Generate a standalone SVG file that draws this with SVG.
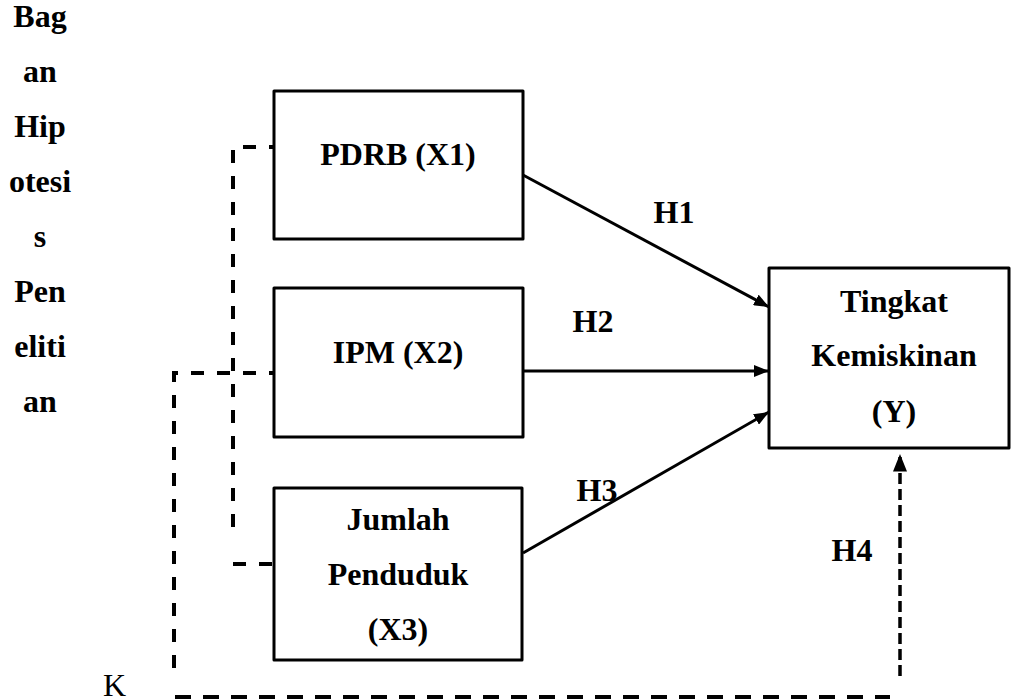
<svg xmlns="http://www.w3.org/2000/svg" width="1011" height="699" viewBox="0 0 1011 699">
<style>
.box{fill:#fff;stroke:#000;stroke-width:3;stroke-linejoin:round}
text{font-family:'Liberation Serif','DejaVu Serif',serif;font-size:32px;fill:#000}
.t{font-weight:bold;text-anchor:middle}
.arr{stroke:#000;stroke-width:3;fill:none}
.dash{stroke:#000;stroke-width:4;fill:none;stroke-dasharray:13 13}
</style>
<defs>
<marker id="ah" viewBox="0 0 10 8" markerWidth="5" markerHeight="4" refX="10" refY="4" orient="auto">
<path d="M0,0 L10,4 L0,8 Z" fill="#000"/>
</marker>
</defs>
<rect width="1011" height="699" fill="#fff"/>
<g id="title">
<text class="t" x="40" y="27">Bag</text>
<text class="t" x="40" y="82">an</text>
<text class="t" x="40" y="137">Hip</text>
<text class="t" x="40" y="192">otesi</text>
<text class="t" x="40" y="247">s</text>
<text class="t" x="40" y="302">Pen</text>
<text class="t" x="40" y="357">eliti</text>
<text class="t" x="40" y="412">an</text>
<text x="103" y="696">K</text>
</g>
<g id="connectors">
<path class="dash" d="M233,527 L233,147 L274,147"/>
<path class="dash" d="M233,564 L274,564"/>
<path class="dash" d="M174,668 L174,373 L274,373"/>
<path class="dash" d="M175,697 L890,697" style="stroke-dasharray:16 12"/>
<line class="arr" x1="523" y1="175" x2="769" y2="307" marker-end="url(#ah)"/>
<line class="arr" x1="523" y1="371" x2="769" y2="371" marker-end="url(#ah)"/>
<line class="arr" x1="523" y1="553" x2="769" y2="412" marker-end="url(#ah)"/>
<line class="arr" x1="900" y1="676" x2="900" y2="454" style="stroke-width:3.5;stroke-dasharray:11 5" marker-end="url(#ah)"/>
<text class="t" x="674" y="223">H1</text>
<text class="t" x="593" y="332">H2</text>
<text class="t" x="597" y="501">H3</text>
<text class="t" x="852" y="561">H4</text>
</g>
<g id="x1">
<rect class="box" x="274" y="91" width="249" height="148"/>
<text class="t" x="398" y="165">PDRB (X1)</text>
</g>
<g id="x2">
<rect class="box" x="274" y="288" width="249" height="149"/>
<text class="t" x="398" y="363">IPM (X2)</text>
</g>
<g id="x3">
<rect class="box" x="274" y="488" width="248" height="172"/>
<text class="t" x="398" y="530">Jumlah</text>
<text class="t" x="398" y="585">Penduduk</text>
<text class="t" x="398" y="640">(X3)</text>
</g>
<g id="y">
<rect class="box" x="769" y="268" width="240" height="180"/>
<text class="t" x="894" y="312">Tingkat</text>
<text class="t" x="894" y="366">Kemiskinan</text>
<text class="t" x="894" y="422">(Y)</text>
</g>
</svg>
